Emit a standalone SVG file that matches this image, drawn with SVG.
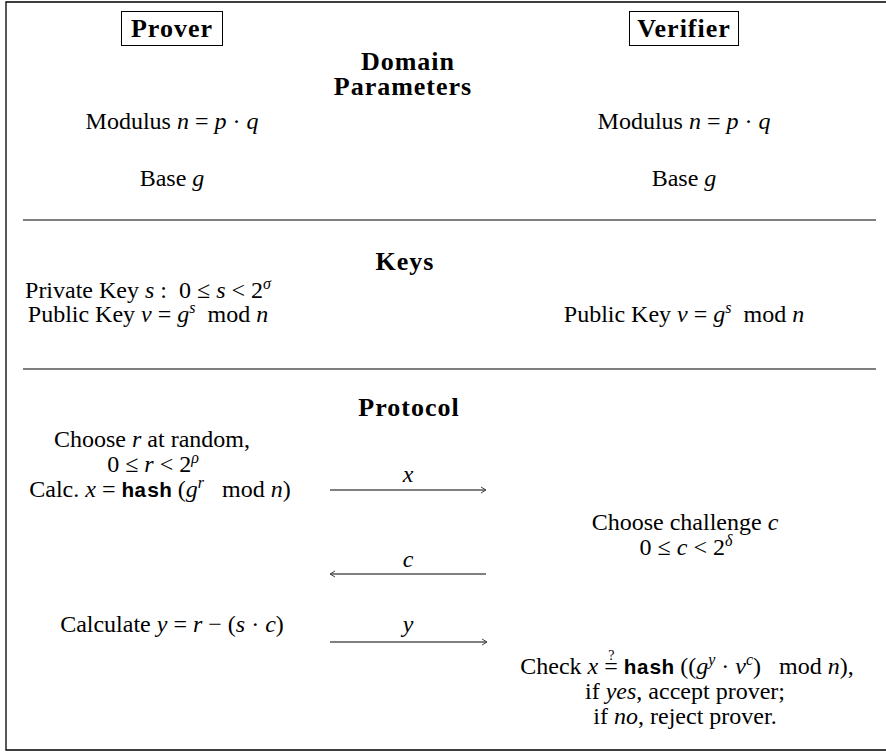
<svg xmlns="http://www.w3.org/2000/svg" width="886" height="752" viewBox="0 0 886 752">
<style>
text{font-family:"Liberation Serif","DejaVu Serif",serif;font-size:24px;fill:#000;text-anchor:middle}
.b{font-weight:bold;font-size:26px;letter-spacing:1px}
.i{font-style:italic}
.tt{font-family:"Liberation Mono","DejaVu Sans Mono",monospace;font-weight:bold;font-size:21px}
.sup{font-size:16px;font-style:italic}
.q{font-size:14px}
.frame{stroke:#000;stroke-width:1.3;fill:none}
.sep{stroke:#000;stroke-width:1.2}
.box{fill:none;stroke:#000;stroke-width:1}
.arr{stroke:#555;stroke-width:1.4;fill:none}
</style>
<defs>
<marker id="ah" markerWidth="8" markerHeight="8" refX="6" refY="4" orient="auto" markerUnits="userSpaceOnUse">
<path d="M1,1 L6,4 L1,7" fill="none" stroke="#444" stroke-width="1"/>
</marker>
</defs>
<path class="frame" d="M886,2 H6 V750 H886"/>
<line class="sep" x1="23" y1="220" x2="876" y2="220"/>
<line class="sep" x1="23" y1="369" x2="876" y2="369"/>

<g id="prover"><rect class="box" x="121.5" y="11.5" width="101" height="34"/><text class="b" x="172" y="37">Prover</text></g>
<g id="verifier"><rect class="box" x="629.5" y="11.5" width="109" height="34"/><text class="b" x="684" y="37">Verifier</text></g>

<g id="domain"><text class="b" x="408" y="70">Domain</text><text class="b" x="403" y="95">Parameters</text></g>
<g id="p-modulus"><text x="172" y="129">Modulus <tspan class="i">n</tspan> = <tspan class="i">p</tspan> · <tspan class="i">q</tspan></text></g>
<g id="v-modulus"><text x="684" y="129">Modulus <tspan class="i">n</tspan> = <tspan class="i">p</tspan> · <tspan class="i">q</tspan></text></g>
<g id="p-base"><text x="172" y="186">Base <tspan class="i">g</tspan></text></g>
<g id="v-base"><text x="684" y="186">Base <tspan class="i">g</tspan></text></g>

<g id="keys"><text class="b" x="405" y="270">Keys</text></g>
<g id="p-private"><text x="148" y="298" xml:space="preserve">Private Key <tspan class="i">s</tspan> :  0 ≤ <tspan class="i">s</tspan> &lt; 2<tspan class="sup" dy="-9">σ</tspan></text></g>
<g id="p-public"><text x="148" y="322" xml:space="preserve">Public Key <tspan class="i">v</tspan> = <tspan class="i">g</tspan><tspan class="sup" dy="-9">s</tspan><tspan dy="9">  mod </tspan><tspan class="i">n</tspan></text></g>
<g id="v-public"><text x="684" y="322" xml:space="preserve">Public Key <tspan class="i">v</tspan> = <tspan class="i">g</tspan><tspan class="sup" dy="-9">s</tspan><tspan dy="9">  mod </tspan><tspan class="i">n</tspan></text></g>

<g id="protocol"><text class="b" x="409" y="416">Protocol</text></g>
<g id="p-choose"><text x="152" y="447">Choose <tspan class="i">r</tspan> at random,</text><text x="153" y="472">0 ≤ <tspan class="i">r</tspan> &lt; 2<tspan class="sup" dy="-9">ρ</tspan></text></g>
<g id="p-calc"><text x="160" y="497" xml:space="preserve">Calc. <tspan class="i">x</tspan> = <tspan class="tt">hash</tspan> (<tspan class="i">g</tspan><tspan class="sup" dy="-9">r</tspan><tspan dy="9">   mod </tspan><tspan class="i">n</tspan>)</text></g>
<g id="v-challenge"><text x="685" y="530">Choose challenge <tspan class="i">c</tspan></text><text x="686" y="555">0 ≤ <tspan class="i">c</tspan> &lt; 2<tspan class="sup" dy="-9">δ</tspan></text></g>
<g id="p-calculate"><text x="172" y="632" xml:space="preserve">Calculate <tspan class="i">y</tspan> = <tspan class="i">r</tspan> − (<tspan class="i">s</tspan> · <tspan class="i">c</tspan>)</text></g>
<g id="v-check"><text x="687" y="674" xml:space="preserve">Check <tspan class="i">x</tspan> <tspan class="q" dx="4" dy="-14">?</tspan><tspan dx="-10.2" dy="14">=</tspan> <tspan class="tt">hash</tspan> ((<tspan class="i">g</tspan><tspan class="sup" dy="-9">y</tspan><tspan dy="9"> · </tspan><tspan class="i">v</tspan><tspan class="sup" dy="-9">c</tspan><tspan dy="9">)   mod </tspan><tspan class="i">n</tspan>),</text>
<text x="685" y="699">if <tspan class="i">yes</tspan>, accept prover;</text><text x="685" y="724">if <tspan class="i">no</tspan>, reject prover.</text></g>

<g id="connectors">
<line class="arr" x1="330" y1="490" x2="486" y2="490" marker-end="url(#ah)"/>
<text class="i" x="408" y="482">x</text>
<line class="arr" x1="486" y1="574" x2="330" y2="574" marker-end="url(#ah)"/>
<text class="i" x="408" y="567">c</text>
<line class="arr" x1="330" y1="642" x2="487" y2="642" marker-end="url(#ah)"/>
<text class="i" x="408" y="632">y</text>
</g>
</svg>
